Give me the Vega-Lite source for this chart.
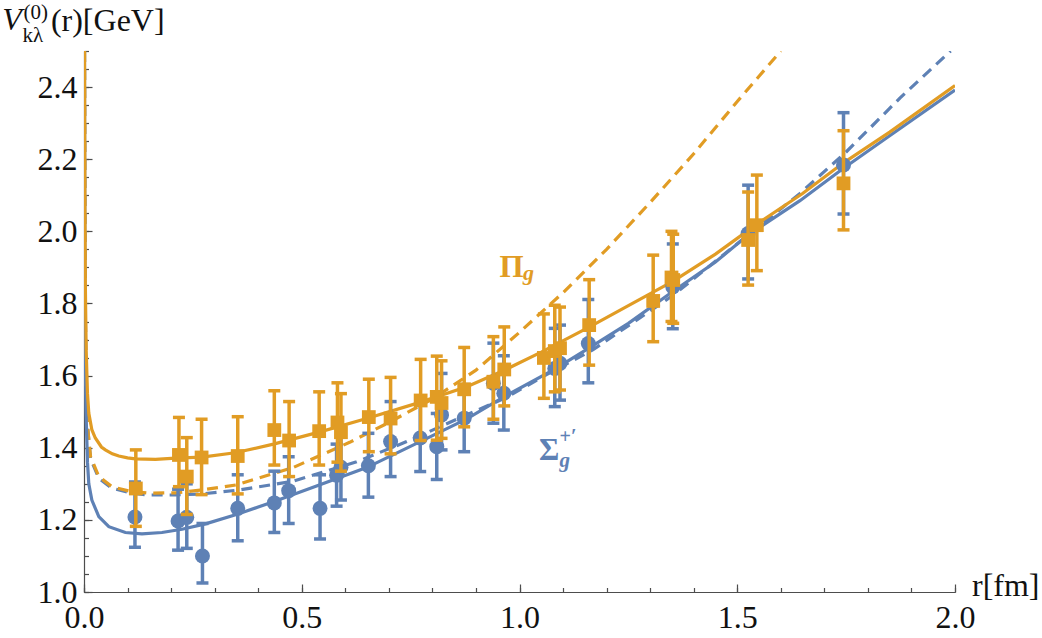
{
  "$schema": "https://vega.github.io/schema/vega-lite/v6.json",
  "width": 871,
  "height": 541,
  "autosize": {"type": "none"},
  "padding": {"left": 84, "top": 51, "right": 87, "bottom": 46},
  "background": "white",
  "config": {
    "view": {"stroke": null},
    "font": "Liberation Serif, DejaVu Serif, serif",
    "text": {"font": "Liberation Serif, DejaVu Serif, serif"},
    "axis": {
      "title": null,
      "grid": false,
      "domainColor": "#4d4d4d",
      "domainWidth": 1.2,
      "tickColor": "#4d4d4d",
      "tickWidth": 1.2,
      "labelFont": "Liberation Serif, DejaVu Serif, serif",
      "labelFontSize": 32,
      "labelColor": "#111111",
      "labelFlush": false,
      "labelOverlap": false
    }
  },
  "datasets": {
    "curves": [
      {"state": "Pi", "fit": "a", "r": 0.0012, "V": 2.5},
      {"state": "Pi", "fit": "a", "r": 0.002, "V": 2.1},
      {"state": "Pi", "fit": "a", "r": 0.003, "V": 1.86},
      {"state": "Pi", "fit": "a", "r": 0.005, "V": 1.67},
      {"state": "Pi", "fit": "a", "r": 0.008, "V": 1.55},
      {"state": "Pi", "fit": "a", "r": 0.011, "V": 1.496},
      {"state": "Pi", "fit": "a", "r": 0.018, "V": 1.45},
      {"state": "Pi", "fit": "a", "r": 0.026, "V": 1.427},
      {"state": "Pi", "fit": "a", "r": 0.04, "V": 1.402},
      {"state": "Pi", "fit": "a", "r": 0.049, "V": 1.394},
      {"state": "Pi", "fit": "a", "r": 0.065, "V": 1.383},
      {"state": "Pi", "fit": "a", "r": 0.08, "V": 1.377},
      {"state": "Pi", "fit": "a", "r": 0.1, "V": 1.372},
      {"state": "Pi", "fit": "a", "r": 0.118, "V": 1.369},
      {"state": "Pi", "fit": "a", "r": 0.164, "V": 1.368},
      {"state": "Pi", "fit": "a", "r": 0.21, "V": 1.371},
      {"state": "Pi", "fit": "a", "r": 0.271, "V": 1.374},
      {"state": "Pi", "fit": "a", "r": 0.347, "V": 1.386},
      {"state": "Pi", "fit": "a", "r": 0.435, "V": 1.41},
      {"state": "Pi", "fit": "a", "r": 0.542, "V": 1.444},
      {"state": "Pi", "fit": "a", "r": 0.649, "V": 1.481},
      {"state": "Pi", "fit": "a", "r": 0.764, "V": 1.523},
      {"state": "Pi", "fit": "a", "r": 0.879, "V": 1.569},
      {"state": "Pi", "fit": "a", "r": 0.965, "V": 1.615},
      {"state": "Pi", "fit": "a", "r": 1.05, "V": 1.665},
      {"state": "Pi", "fit": "a", "r": 1.162, "V": 1.736},
      {"state": "Pi", "fit": "a", "r": 1.25, "V": 1.794},
      {"state": "Pi", "fit": "a", "r": 1.353, "V": 1.862},
      {"state": "Pi", "fit": "a", "r": 1.45, "V": 1.937},
      {"state": "Pi", "fit": "a", "r": 1.545, "V": 2.02},
      {"state": "Pi", "fit": "a", "r": 1.65, "V": 2.105},
      {"state": "Pi", "fit": "a", "r": 1.744, "V": 2.19},
      {"state": "Pi", "fit": "a", "r": 1.85, "V": 2.275},
      {"state": "Pi", "fit": "a", "r": 2.0, "V": 2.404},

      {"state": "Sigma", "fit": "a", "r": 0.0011, "V": 2.5},
      {"state": "Sigma", "fit": "a", "r": 0.002, "V": 1.9},
      {"state": "Sigma", "fit": "a", "r": 0.003, "V": 1.66},
      {"state": "Sigma", "fit": "a", "r": 0.0046, "V": 1.5},
      {"state": "Sigma", "fit": "a", "r": 0.008, "V": 1.36},
      {"state": "Sigma", "fit": "a", "r": 0.011, "V": 1.3},
      {"state": "Sigma", "fit": "a", "r": 0.018, "V": 1.255},
      {"state": "Sigma", "fit": "a", "r": 0.034, "V": 1.209},
      {"state": "Sigma", "fit": "a", "r": 0.057, "V": 1.181},
      {"state": "Sigma", "fit": "a", "r": 0.095, "V": 1.165},
      {"state": "Sigma", "fit": "a", "r": 0.133, "V": 1.161},
      {"state": "Sigma", "fit": "a", "r": 0.179, "V": 1.165},
      {"state": "Sigma", "fit": "a", "r": 0.225, "V": 1.174},
      {"state": "Sigma", "fit": "a", "r": 0.279, "V": 1.189},
      {"state": "Sigma", "fit": "a", "r": 0.35, "V": 1.215},
      {"state": "Sigma", "fit": "a", "r": 0.435, "V": 1.25},
      {"state": "Sigma", "fit": "a", "r": 0.534, "V": 1.294},
      {"state": "Sigma", "fit": "a", "r": 0.649, "V": 1.345},
      {"state": "Sigma", "fit": "a", "r": 0.772, "V": 1.417},
      {"state": "Sigma", "fit": "a", "r": 0.879, "V": 1.48},
      {"state": "Sigma", "fit": "a", "r": 0.97, "V": 1.545},
      {"state": "Sigma", "fit": "a", "r": 1.081, "V": 1.618},
      {"state": "Sigma", "fit": "a", "r": 1.162, "V": 1.678},
      {"state": "Sigma", "fit": "a", "r": 1.25, "V": 1.745},
      {"state": "Sigma", "fit": "a", "r": 1.352, "V": 1.833},
      {"state": "Sigma", "fit": "a", "r": 1.45, "V": 1.915},
      {"state": "Sigma", "fit": "a", "r": 1.525, "V": 1.99},
      {"state": "Sigma", "fit": "a", "r": 1.644, "V": 2.085},
      {"state": "Sigma", "fit": "a", "r": 1.744, "V": 2.175},
      {"state": "Sigma", "fit": "a", "r": 1.85, "V": 2.265},
      {"state": "Sigma", "fit": "a", "r": 2.0, "V": 2.392},

      {"state": "Pi", "fit": "b", "r": 0.0012, "V": 2.5},
      {"state": "Pi", "fit": "b", "r": 0.002, "V": 2.02},
      {"state": "Pi", "fit": "b", "r": 0.003, "V": 1.78},
      {"state": "Pi", "fit": "b", "r": 0.005, "V": 1.58},
      {"state": "Pi", "fit": "b", "r": 0.008, "V": 1.46},
      {"state": "Pi", "fit": "b", "r": 0.015, "V": 1.375},
      {"state": "Pi", "fit": "b", "r": 0.034, "V": 1.32},
      {"state": "Pi", "fit": "b", "r": 0.064, "V": 1.292},
      {"state": "Pi", "fit": "b", "r": 0.103, "V": 1.28},
      {"state": "Pi", "fit": "b", "r": 0.148, "V": 1.274},
      {"state": "Pi", "fit": "b", "r": 0.21, "V": 1.275},
      {"state": "Pi", "fit": "b", "r": 0.271, "V": 1.283},
      {"state": "Pi", "fit": "b", "r": 0.35, "V": 1.297},
      {"state": "Pi", "fit": "b", "r": 0.48, "V": 1.345},
      {"state": "Pi", "fit": "b", "r": 0.61, "V": 1.415},
      {"state": "Pi", "fit": "b", "r": 0.7, "V": 1.47},
      {"state": "Pi", "fit": "b", "r": 0.8, "V": 1.535},
      {"state": "Pi", "fit": "b", "r": 0.9, "V": 1.615},
      {"state": "Pi", "fit": "b", "r": 1.0, "V": 1.72},
      {"state": "Pi", "fit": "b", "r": 1.1, "V": 1.83},
      {"state": "Pi", "fit": "b", "r": 1.2, "V": 1.95},
      {"state": "Pi", "fit": "b", "r": 1.3, "V": 2.08},
      {"state": "Pi", "fit": "b", "r": 1.4, "V": 2.215},
      {"state": "Pi", "fit": "b", "r": 1.5, "V": 2.36},
      {"state": "Pi", "fit": "b", "r": 1.55, "V": 2.43},
      {"state": "Pi", "fit": "b", "r": 1.6, "V": 2.5},

      {"state": "Sigma", "fit": "b", "r": 0.0012, "V": 2.5},
      {"state": "Sigma", "fit": "b", "r": 0.002, "V": 2.02},
      {"state": "Sigma", "fit": "b", "r": 0.003, "V": 1.78},
      {"state": "Sigma", "fit": "b", "r": 0.005, "V": 1.58},
      {"state": "Sigma", "fit": "b", "r": 0.008, "V": 1.46},
      {"state": "Sigma", "fit": "b", "r": 0.015, "V": 1.37},
      {"state": "Sigma", "fit": "b", "r": 0.034, "V": 1.315},
      {"state": "Sigma", "fit": "b", "r": 0.064, "V": 1.288},
      {"state": "Sigma", "fit": "b", "r": 0.11, "V": 1.274},
      {"state": "Sigma", "fit": "b", "r": 0.148, "V": 1.269},
      {"state": "Sigma", "fit": "b", "r": 0.21, "V": 1.269},
      {"state": "Sigma", "fit": "b", "r": 0.271, "V": 1.272},
      {"state": "Sigma", "fit": "b", "r": 0.358, "V": 1.283},
      {"state": "Sigma", "fit": "b", "r": 0.48, "V": 1.307},
      {"state": "Sigma", "fit": "b", "r": 0.626, "V": 1.361},
      {"state": "Sigma", "fit": "b", "r": 0.741, "V": 1.417},
      {"state": "Sigma", "fit": "b", "r": 0.856, "V": 1.479},
      {"state": "Sigma", "fit": "b", "r": 0.971, "V": 1.54},
      {"state": "Sigma", "fit": "b", "r": 1.062, "V": 1.603},
      {"state": "Sigma", "fit": "b", "r": 1.169, "V": 1.672},
      {"state": "Sigma", "fit": "b", "r": 1.352, "V": 1.822},
      {"state": "Sigma", "fit": "b", "r": 1.525, "V": 1.99},
      {"state": "Sigma", "fit": "b", "r": 1.644, "V": 2.105},
      {"state": "Sigma", "fit": "b", "r": 1.75, "V": 2.22},
      {"state": "Sigma", "fit": "b", "r": 1.874, "V": 2.37},
      {"state": "Sigma", "fit": "b", "r": 1.99, "V": 2.5}
    ],
    "points": [
      {"state": "Sigma", "r": 0.117, "V": 1.208, "lo": 1.124, "hi": 1.305},
      {"state": "Sigma", "r": 0.216, "V": 1.197, "lo": 1.116, "hi": 1.285},
      {"state": "Sigma", "r": 0.236, "V": 1.207, "lo": 1.121, "hi": 1.3},
      {"state": "Sigma", "r": 0.272, "V": 1.1, "lo": 1.025, "hi": 1.19},
      {"state": "Sigma", "r": 0.353, "V": 1.232, "lo": 1.142, "hi": 1.325},
      {"state": "Sigma", "r": 0.437, "V": 1.247, "lo": 1.165, "hi": 1.335},
      {"state": "Sigma", "r": 0.47, "V": 1.281, "lo": 1.19, "hi": 1.375},
      {"state": "Sigma", "r": 0.542, "V": 1.232, "lo": 1.147, "hi": 1.325},
      {"state": "Sigma", "r": 0.58, "V": 1.324, "lo": 1.238, "hi": 1.41},
      {"state": "Sigma", "r": 0.59, "V": 1.346, "lo": 1.255, "hi": 1.435},
      {"state": "Sigma", "r": 0.653, "V": 1.35, "lo": 1.263, "hi": 1.44},
      {"state": "Sigma", "r": 0.704, "V": 1.417, "lo": 1.32, "hi": 1.528},
      {"state": "Sigma", "r": 0.772, "V": 1.427, "lo": 1.334, "hi": 1.52},
      {"state": "Sigma", "r": 0.81, "V": 1.403, "lo": 1.312, "hi": 1.495},
      {"state": "Sigma", "r": 0.821, "V": 1.491, "lo": 1.394, "hi": 1.606},
      {"state": "Sigma", "r": 0.873, "V": 1.482, "lo": 1.389, "hi": 1.575},
      {"state": "Sigma", "r": 0.94, "V": 1.579, "lo": 1.468, "hi": 1.69},
      {"state": "Sigma", "r": 0.964, "V": 1.551, "lo": 1.449, "hi": 1.655},
      {"state": "Sigma", "r": 1.081, "V": 1.62, "lo": 1.514, "hi": 1.731},
      {"state": "Sigma", "r": 1.093, "V": 1.634, "lo": 1.532, "hi": 1.74},
      {"state": "Sigma", "r": 1.158, "V": 1.689, "lo": 1.58, "hi": 1.811},
      {"state": "Sigma", "r": 1.352, "V": 1.846, "lo": 1.73, "hi": 1.965},
      {"state": "Sigma", "r": 1.525, "V": 1.994, "lo": 1.868, "hi": 2.128},
      {"state": "Sigma", "r": 1.744, "V": 2.184, "lo": 2.048, "hi": 2.329},

      {"state": "Pi", "r": 0.119, "V": 1.287, "lo": 1.182, "hi": 1.394},
      {"state": "Pi", "r": 0.218, "V": 1.38, "lo": 1.292, "hi": 1.484},
      {"state": "Pi", "r": 0.236, "V": 1.32, "lo": 1.215, "hi": 1.428},
      {"state": "Pi", "r": 0.27, "V": 1.373, "lo": 1.27, "hi": 1.479},
      {"state": "Pi", "r": 0.353, "V": 1.377, "lo": 1.272, "hi": 1.486},
      {"state": "Pi", "r": 0.437, "V": 1.449, "lo": 1.352, "hi": 1.558},
      {"state": "Pi", "r": 0.471, "V": 1.42, "lo": 1.32, "hi": 1.528},
      {"state": "Pi", "r": 0.54, "V": 1.446, "lo": 1.352, "hi": 1.555},
      {"state": "Pi", "r": 0.582, "V": 1.47, "lo": 1.36, "hi": 1.58},
      {"state": "Pi", "r": 0.59, "V": 1.443, "lo": 1.335, "hi": 1.55},
      {"state": "Pi", "r": 0.654, "V": 1.485, "lo": 1.389, "hi": 1.59},
      {"state": "Pi", "r": 0.704, "V": 1.481, "lo": 1.383, "hi": 1.595},
      {"state": "Pi", "r": 0.773, "V": 1.531, "lo": 1.42, "hi": 1.645},
      {"state": "Pi", "r": 0.81, "V": 1.541, "lo": 1.421, "hi": 1.654},
      {"state": "Pi", "r": 0.821, "V": 1.524, "lo": 1.426, "hi": 1.641},
      {"state": "Pi", "r": 0.873, "V": 1.562, "lo": 1.458, "hi": 1.678},
      {"state": "Pi", "r": 0.94, "V": 1.583, "lo": 1.479, "hi": 1.708},
      {"state": "Pi", "r": 0.965, "V": 1.617, "lo": 1.516, "hi": 1.735},
      {"state": "Pi", "r": 1.056, "V": 1.649, "lo": 1.537, "hi": 1.771},
      {"state": "Pi", "r": 1.081, "V": 1.668, "lo": 1.555, "hi": 1.795},
      {"state": "Pi", "r": 1.093, "V": 1.676, "lo": 1.56, "hi": 1.79},
      {"state": "Pi", "r": 1.16, "V": 1.74, "lo": 1.629, "hi": 1.866},
      {"state": "Pi", "r": 1.307, "V": 1.807, "lo": 1.694, "hi": 1.934},
      {"state": "Pi", "r": 1.349, "V": 1.872, "lo": 1.75, "hi": 2.0},
      {"state": "Pi", "r": 1.353, "V": 1.865, "lo": 1.745, "hi": 1.992},
      {"state": "Pi", "r": 1.525, "V": 1.976, "lo": 1.851, "hi": 2.109},
      {"state": "Pi", "r": 1.545, "V": 2.017, "lo": 1.891, "hi": 2.156},
      {"state": "Pi", "r": 1.744, "V": 2.133, "lo": 2.004, "hi": 2.279}
    ]
  },
  "resolve": {"axis": {"x": "independent", "y": "independent"}},
  "layer": [
    {
      "data": {"name": "curves"},
      "encoding": {
        "x": {
          "field": "r", "type": "quantitative",
          "scale": {"domain": [0, 2], "nice": false, "zero": false},
          "axis": {
            "orient": "bottom", "labels": false, "domain": false, "tickSize": -4.5,
            "values": [0, 0.1, 0.2, 0.3, 0.4, 0.5, 0.6, 0.7, 0.8, 0.9, 1, 1.1, 1.2, 1.3, 1.4, 1.5, 1.6, 1.7, 1.8, 1.9, 2]
          }
        },
        "y": {
          "field": "V", "type": "quantitative",
          "scale": {"domain": [1, 2.5], "nice": false, "zero": false},
          "axis": {
            "orient": "left", "labels": false, "domain": false, "tickSize": -4.5,
            "values": [1, 1.05, 1.1, 1.15, 1.2, 1.25, 1.3, 1.35, 1.4, 1.45, 1.5, 1.55, 1.6, 1.65, 1.7, 1.75, 1.8, 1.85, 1.9, 1.95, 2, 2.05, 2.1, 2.15, 2.2, 2.25, 2.3, 2.35, 2.4, 2.45, 2.5]
          }
        }
      },
      "layer": [
        {
          "transform": [{"filter": "datum.state === 'Sigma' && datum.fit === 'b'"}],
          "mark": {"type": "line", "clip": true, "color": "#5E81B5", "strokeWidth": 3.2, "strokeDash": [11, 7]}
        },
        {
          "transform": [{"filter": "datum.state === 'Pi' && datum.fit === 'b'"}],
          "mark": {"type": "line", "clip": true, "color": "#E19C24", "strokeWidth": 3.2, "strokeDash": [11, 7]}
        },
        {
          "transform": [{"filter": "datum.state === 'Sigma' && datum.fit === 'a'"}],
          "mark": {"type": "line", "clip": true, "color": "#5E81B5", "strokeWidth": 3.2}
        },
        {
          "transform": [{"filter": "datum.state === 'Pi' && datum.fit === 'a'"}],
          "mark": {"type": "line", "clip": true, "color": "#E19C24", "strokeWidth": 3.2}
        }
      ]
    },
    {
      "data": {"name": "points"},
      "transform": [{"filter": "datum.state === 'Sigma'"}],
      "encoding": {
        "x": {"field": "r", "type": "quantitative", "scale": {"domain": [0, 2], "nice": false, "zero": false}, "axis": null}
      },
      "layer": [
        {
          "mark": {"type": "rule", "color": "#5E81B5", "strokeWidth": 3.5},
          "encoding": {
            "y": {"field": "lo", "type": "quantitative", "scale": {"domain": [1, 2.5], "nice": false, "zero": false}, "axis": null},
            "y2": {"field": "hi"}
          }
        },
        {
          "mark": {"type": "tick", "orient": "horizontal", "size": 12, "thickness": 3.5, "color": "#5E81B5", "opacity": 1},
          "encoding": {"y": {"field": "lo", "type": "quantitative", "scale": {"domain": [1, 2.5], "nice": false, "zero": false}, "axis": null}}
        },
        {
          "mark": {"type": "tick", "orient": "horizontal", "size": 12, "thickness": 3.5, "color": "#5E81B5", "opacity": 1},
          "encoding": {"y": {"field": "hi", "type": "quantitative", "scale": {"domain": [1, 2.5], "nice": false, "zero": false}, "axis": null}}
        }
      ]
    },
    {
      "data": {"name": "points"},
      "transform": [{"filter": "datum.state === 'Sigma'"}],
      "mark": {"type": "circle", "size": 225, "color": "#5E81B5", "opacity": 1},
      "encoding": {
        "x": {
          "field": "r", "type": "quantitative",
          "scale": {"domain": [0, 2], "nice": false, "zero": false},
          "axis": {"orient": "bottom", "values": [0, 0.5, 1, 1.5, 2], "format": ".1f", "tickSize": -8, "labelPadding": 18}
        },
        "y": {
          "field": "V", "type": "quantitative",
          "scale": {"domain": [1, 2.5], "nice": false, "zero": false},
          "axis": {"orient": "left", "values": [1, 1.2, 1.4, 1.6, 1.8, 2, 2.2, 2.4], "format": ".1f", "tickSize": -8, "labelPadding": 15}
        }
      }
    },
    {
      "data": {"name": "points"},
      "transform": [{"filter": "datum.state === 'Pi'"}],
      "encoding": {
        "x": {"field": "r", "type": "quantitative", "scale": {"domain": [0, 2], "nice": false, "zero": false}, "axis": null}
      },
      "layer": [
        {
          "mark": {"type": "rule", "color": "#E19C24", "strokeWidth": 3.5},
          "encoding": {
            "y": {"field": "lo", "type": "quantitative", "scale": {"domain": [1, 2.5], "nice": false, "zero": false}, "axis": null},
            "y2": {"field": "hi"}
          }
        },
        {
          "mark": {"type": "tick", "orient": "horizontal", "size": 12, "thickness": 3.5, "color": "#E19C24", "opacity": 1},
          "encoding": {"y": {"field": "lo", "type": "quantitative", "scale": {"domain": [1, 2.5], "nice": false, "zero": false}, "axis": null}}
        },
        {
          "mark": {"type": "tick", "orient": "horizontal", "size": 12, "thickness": 3.5, "color": "#E19C24", "opacity": 1},
          "encoding": {"y": {"field": "hi", "type": "quantitative", "scale": {"domain": [1, 2.5], "nice": false, "zero": false}, "axis": null}}
        },
        {
          "mark": {"type": "square", "size": 190, "color": "#E19C24", "opacity": 1},
          "encoding": {"y": {"field": "V", "type": "quantitative", "scale": {"domain": [1, 2.5], "nice": false, "zero": false}, "axis": null}}
        }
      ]
    },
    {
      "encoding": {
        "x": {"field": "r", "type": "quantitative", "scale": {"domain": [0, 2], "nice": false, "zero": false}, "axis": null},
        "y": {"field": "V", "type": "quantitative", "scale": {"domain": [1, 2.5], "nice": false, "zero": false}, "axis": null},
        "text": {"field": "t"}
      },
      "layer": [
        {
          "data": {"values": [{"r": 0.982, "V": 1.874, "t": "Π"}]},
          "mark": {"type": "text", "align": "center", "baseline": "alphabetic", "fontSize": 31, "fontWeight": "bold", "color": "#E19C24"}
        },
        {
          "data": {"values": [{"r": 1.008, "V": 1.864, "t": "g"}]},
          "mark": {"type": "text", "align": "left", "baseline": "alphabetic", "fontSize": 22, "fontWeight": "bold", "fontStyle": "italic", "color": "#E19C24"}
        },
        {
          "data": {"values": [{"r": 1.068, "V": 1.366, "t": "Σ"}]},
          "mark": {"type": "text", "align": "center", "baseline": "alphabetic", "fontSize": 31, "fontWeight": "bold", "color": "#5E81B5"}
        },
        {
          "data": {"values": [{"r": 1.092, "V": 1.346, "t": "g"}]},
          "mark": {"type": "text", "align": "left", "baseline": "alphabetic", "fontSize": 21, "fontWeight": "bold", "fontStyle": "italic", "color": "#5E81B5"}
        },
        {
          "data": {"values": [{"r": 1.092, "V": 1.412, "t": "+′"}]},
          "mark": {"type": "text", "align": "left", "baseline": "alphabetic", "fontSize": 20, "fontWeight": "bold", "color": "#5E81B5"}
        },
        {
          "data": {"values": [{"r": -0.188, "V": 2.558, "t": "V"}]},
          "mark": {"type": "text", "align": "left", "baseline": "alphabetic", "fontSize": 32, "fontStyle": "italic", "color": "#111111"}
        },
        {
          "data": {"values": [{"r": -0.139, "V": 2.589, "t": "(0)"}]},
          "mark": {"type": "text", "align": "left", "baseline": "alphabetic", "fontSize": 21, "color": "#111111"}
        },
        {
          "data": {"values": [{"r": -0.141, "V": 2.526, "t": "kλ"}]},
          "mark": {"type": "text", "align": "left", "baseline": "alphabetic", "fontSize": 21, "color": "#111111"}
        },
        {
          "data": {"values": [{"r": -0.076, "V": 2.555, "t": "(r)[GeV]"}]},
          "mark": {"type": "text", "align": "left", "baseline": "alphabetic", "fontSize": 32, "color": "#111111"}
        },
        {
          "data": {"values": [{"r": 2.039, "V": 0.989, "t": "r[fm]"}]},
          "mark": {"type": "text", "align": "left", "baseline": "alphabetic", "fontSize": 32, "color": "#111111"}
        }
      ]
    }
  ]
}
